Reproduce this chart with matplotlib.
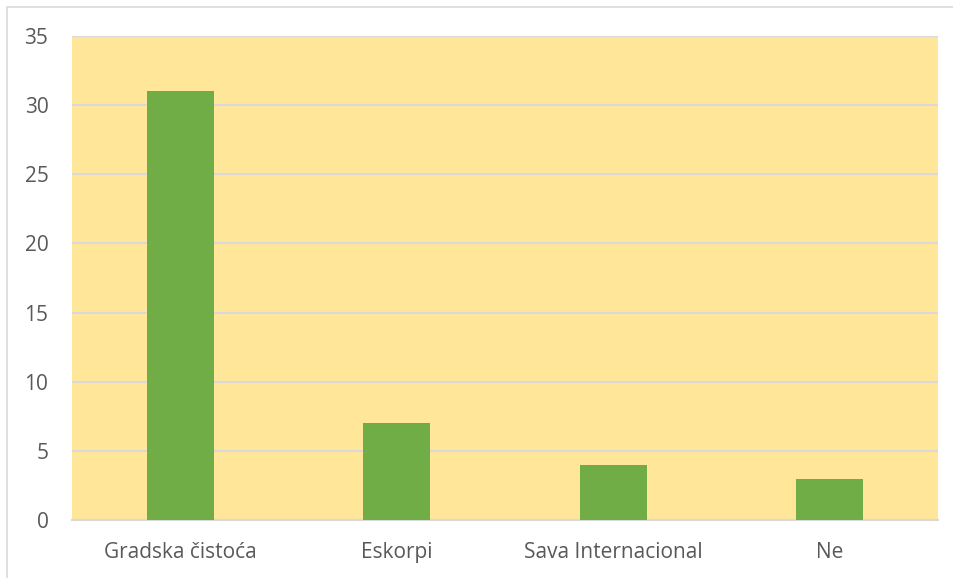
import matplotlib
matplotlib.use("Agg")
import matplotlib.pyplot as plt
from matplotlib.patches import Rectangle

categories = ["Gradska čistoća", "Eskorpi", "Sava Internacional", "Ne"]
values = [31, 7, 4, 3]
yticks = [0, 5, 10, 15, 20, 25, 30, 35]

plt.rcParams['font.family'] = ['Open Sans', 'DejaVu Sans']

fig = plt.figure(figsize=(9.54, 5.78), dpi=100)
# outer chart border
fig.patches.append(Rectangle((7 / 954, -0.01), 1.0, 1 - 7 / 578 + 0.01,
                             transform=fig.transFigure, fill=False,
                             edgecolor="#D9D9D9", linewidth=1.2))

ax = fig.add_axes([72 / 954, 1 - 520 / 578, 866 / 954, 484 / 578])
ax.set_facecolor("#FFE699")

x = range(len(categories))
ax.bar(x, values, width=0.31, color="#70AD47", zorder=3)

ax.set_xlim(-0.5, len(categories) - 0.5)
ax.set_ylim(0, 35)
ax.set_yticks(yticks)
ax.set_xticks(list(x))
ax.set_xticklabels(categories)
ax.grid(axis="y", color="#D9D9D9", linewidth=1.5, zorder=1)
ax.set_axisbelow(True)

for s in ["left", "right", "top"]:
    ax.spines[s].set_visible(False)
ax.spines["bottom"].set_color("#D9D9D9")
ax.spines["bottom"].set_linewidth(1.5)

ax.tick_params(axis="both", length=0, labelsize=15, colors="#595959")
ax.tick_params(axis="x", pad=16)
ax.tick_params(axis="y", pad=17)

fig.savefig("out.png", dpi=100)
